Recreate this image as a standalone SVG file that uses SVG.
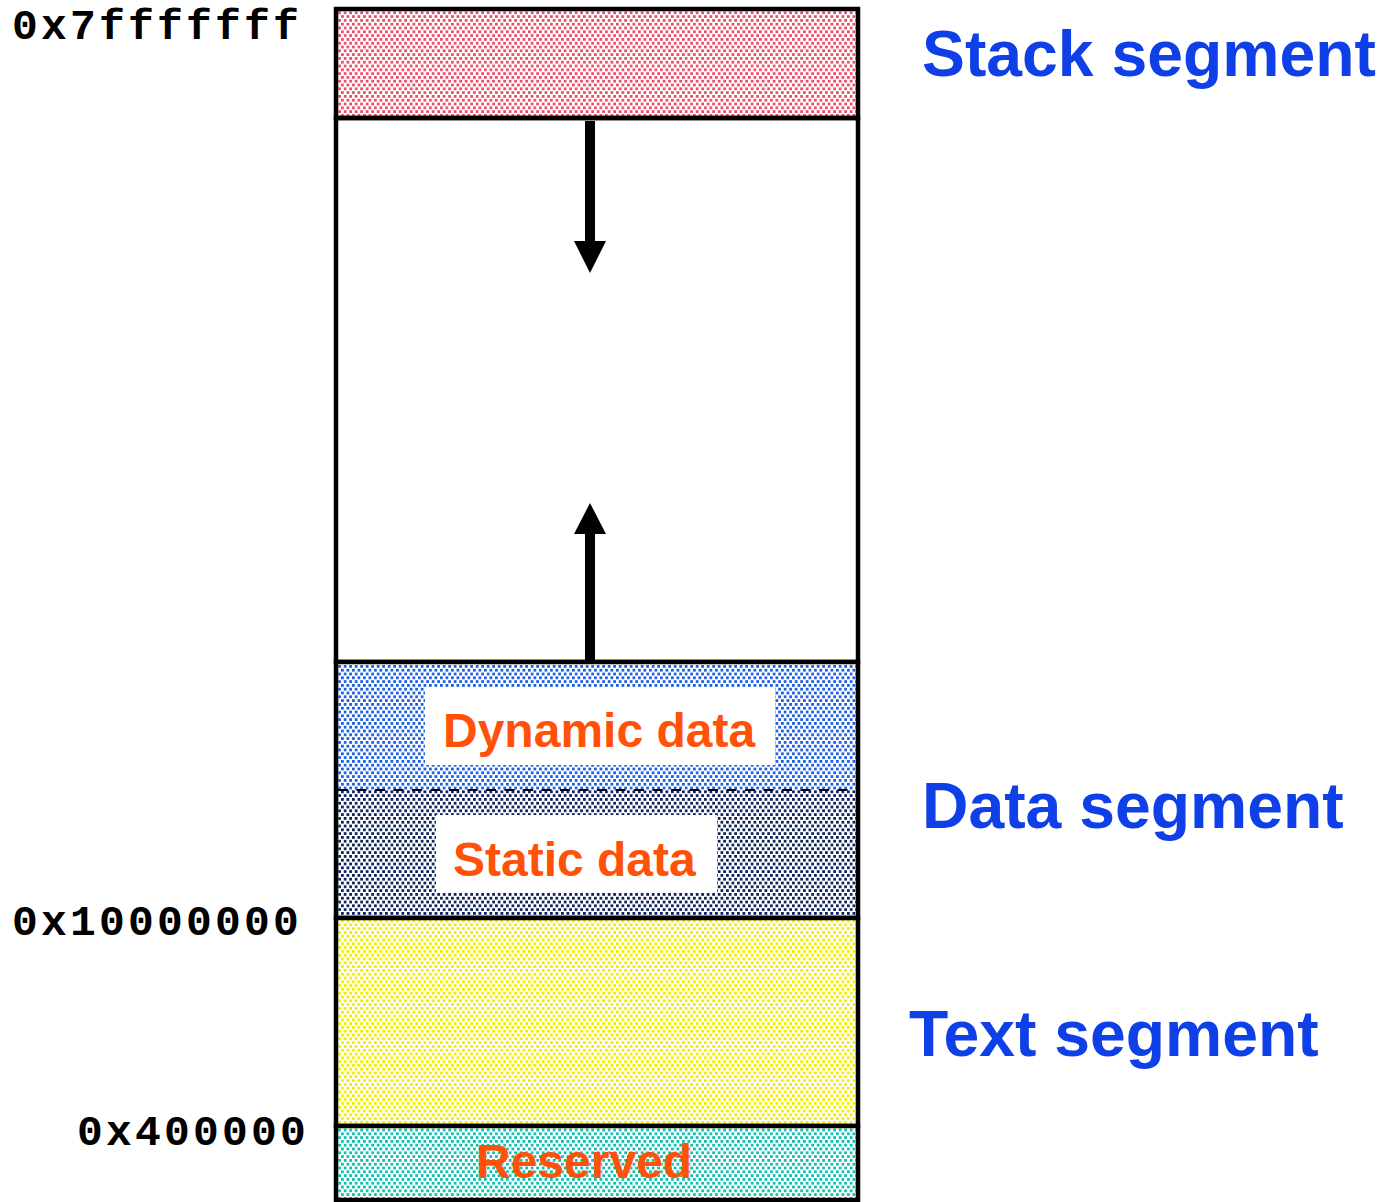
<svg xmlns="http://www.w3.org/2000/svg" width="1383" height="1202" viewBox="0 0 1383 1202">
<style>
.addr{font-family:"Liberation Mono","Courier New",monospace;font-weight:bold;font-size:43px;letter-spacing:3.2px;fill:#000}
.seg{font-family:"Liberation Sans",Arial,sans-serif;font-weight:bold;font-size:64.3px;fill:#0F3FE6}
.lbl{font-family:"Liberation Sans",Arial,sans-serif;font-weight:bold;font-size:48px;fill:#FF5208}
.border{fill:none;stroke:#000;stroke-width:4.5}
</style>
<defs>
<pattern id="pStack" width="5.5" height="7.6" patternUnits="userSpaceOnUse"><rect width="5.5" height="7.6" fill="#fff"/><rect x="0" y="0" width="2.8" height="2.8" fill="#E8506A"/><rect x="2.75" y="3.8" width="2.8" height="2.8" fill="#E8506A"/></pattern>
<pattern id="pDyn" width="5.5" height="7.6" patternUnits="userSpaceOnUse"><rect width="5.5" height="7.6" fill="#fff"/><rect x="0" y="0" width="2.8" height="2.8" fill="#1E5FE0"/><rect x="2.75" y="3.8" width="2.8" height="2.8" fill="#1E5FE0"/></pattern>
<pattern id="pStat" width="5.5" height="7.6" patternUnits="userSpaceOnUse"><rect width="5.5" height="7.6" fill="#fff"/><rect x="0" y="0" width="2.8" height="2.8" fill="#0E2458"/><rect x="2.75" y="3.8" width="2.8" height="2.8" fill="#0E2458"/></pattern>
<pattern id="pText" width="5.5" height="7.6" patternUnits="userSpaceOnUse"><rect width="5.5" height="7.6" fill="#fff"/><rect x="0" y="0" width="2.8" height="2.8" fill="#F2EE00"/><rect x="2.75" y="3.8" width="2.8" height="2.8" fill="#F2EE00"/></pattern>
<pattern id="pRes" width="5.5" height="7.6" patternUnits="userSpaceOnUse"><rect width="5.5" height="7.6" fill="#fff"/><rect x="0" y="0" width="2.8" height="2.8" fill="#10BFAE"/><rect x="2.75" y="3.8" width="2.8" height="2.8" fill="#10BFAE"/></pattern>
</defs>
<rect width="1383" height="1202" fill="#fff"/>

<g id="stack">
<rect x="336" y="9" width="522" height="109" fill="url(#pStack)"/>
<rect x="336" y="9" width="522" height="109" class="border"/>
</g>
<g id="free">
<rect x="336" y="118" width="522" height="544" fill="#fff" class="border"/>
</g>
<g id="data">
<rect x="336" y="662" width="522" height="128" fill="url(#pDyn)"/>
<rect x="336" y="790" width="522" height="128" fill="url(#pStat)"/>
<rect x="336" y="662" width="522" height="256" class="border"/>
</g>
<g id="dynamic">
<rect x="425" y="687" width="350" height="78" fill="#fff"/>
<text class="lbl" x="443" y="747">Dynamic data</text>
</g>
<g id="static">
<rect x="436" y="815" width="281" height="78" fill="#fff"/>
<text class="lbl" x="453" y="876">Static data</text>
</g>
<g id="text">
<rect x="336" y="918" width="522" height="208" fill="url(#pText)"/>
<rect x="336" y="918" width="522" height="208" class="border"/>
</g>
<g id="reserved">
<rect x="336" y="1126" width="522" height="74" fill="url(#pRes)"/>
<rect x="336" y="1126" width="522" height="74" class="border"/>
<text class="lbl" x="476" y="1178">Reserved</text>
</g>

<g id="connectors">
<line x1="338" y1="790" x2="856" y2="790" stroke="#000" stroke-width="2.2" stroke-dasharray="10 8.5"/>
<rect x="585" y="121" width="10" height="122" fill="#000"/>
<polygon points="574,241 606,241 590,273" fill="#000"/>
<rect x="585" y="532" width="10" height="130" fill="#000"/>
<polygon points="574,534 606,534 590,503" fill="#000"/>
</g>

<g id="addresses">
<text class="addr" x="12" y="39">0x7fffffff</text>
<text class="addr" x="12" y="935">0x10000000</text>
<text class="addr" x="77" y="1145">0x400000</text>
</g>
<g id="segments">
<text class="seg" x="922" y="76">Stack segment</text>
<text class="seg" x="922" y="828">Data segment</text>
<text class="seg" x="909" y="1056">Text segment</text>
</g>
</svg>
